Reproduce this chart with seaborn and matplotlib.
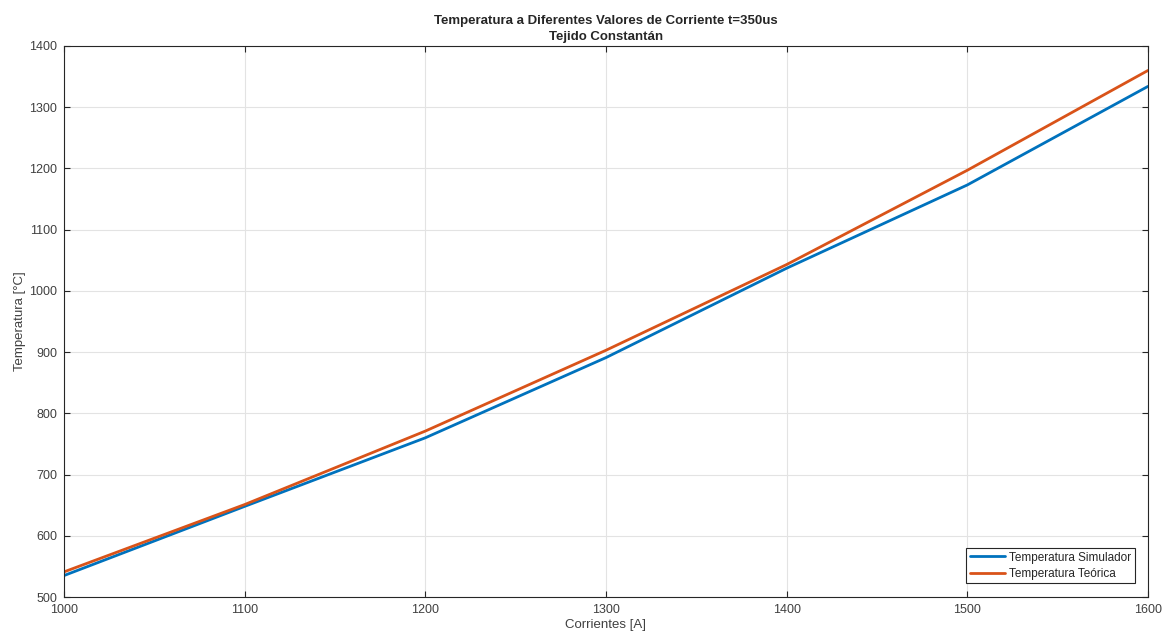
import pandas as pd
import matplotlib.pyplot as plt
import seaborn as sns

# datos
corrientes = [1000, 1100, 1200, 1300, 1400, 1500, 1600]
temp_simulador = [535, 648, 760, 891, 1037, 1173, 1334]
temp_teorica = [541, 651, 771, 903, 1043, 1197, 1360]

df = pd.DataFrame({
    'Corriente': corrientes * 2,
    'Temperatura': temp_simulador + temp_teorica,
    'Serie': ['Temperatura Simulador'] * len(corrientes) + ['Temperatura Teórica'] * len(corrientes),
})

sns.set_style("whitegrid")
plt.rcParams['font.family'] = ['Liberation Sans', 'DejaVu Sans']

fig = plt.figure(figsize=(11.69, 6.36), dpi=100)
ax = fig.add_axes([0.0547, 0.0613, 0.9273, 0.8664])

sns.lineplot(data=df, x='Corriente', y='Temperatura', hue='Serie',
             palette=['#0072BD', '#D95319'], linewidth=2, ax=ax)

ax.set_xlim(1000, 1600)
ax.set_ylim(500, 1400)
ax.set_xticks(range(1000, 1601, 100))
ax.set_yticks(range(500, 1401, 100))
ax.grid(True, color='#e3e3e3', linewidth=0.8)
for s in ax.spines.values():
    s.set_color('#262626')
    s.set_linewidth(0.8)
ax.tick_params(direction='in', length=4, colors='#262626', labelcolor='#404040',
               labelsize=9, pad=5, top=True, right=True, bottom=True, left=True)

ax.set_xlabel('Corrientes [A]', fontsize=9.5, color='#404040', labelpad=2)
ax.set_ylabel('Temperatura [°C]', fontsize=9.5, color='#404040', labelpad=2)
ax.set_title('Temperatura a Diferentes Valores de Corriente t=350us\nTejido Constantán',
             fontsize=9.5, fontweight='bold', linespacing=1.45, pad=4)

leg = ax.legend(loc='lower right', fontsize=8.5, frameon=True, fancybox=False,
                edgecolor='#262626', framealpha=1, borderpad=0.3, handlelength=3.0,
                handletextpad=0.35, labelspacing=0.35, borderaxespad=0,
                bbox_to_anchor=(0.988, 0.025))
leg.get_frame().set_linewidth(0.8)

plt.savefig('out.png', dpi=100)
